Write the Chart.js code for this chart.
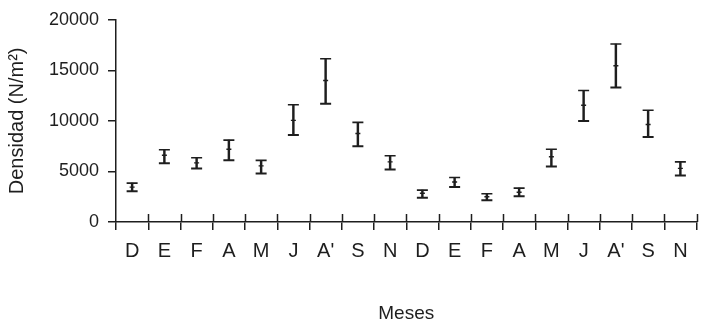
<!DOCTYPE html>
<html>
<head>
<meta charset="utf-8">
<script src="https://cdn.jsdelivr.net/npm/chart.js@4.4.1/dist/chart.umd.min.js"></script>
<style>
  body { margin: 0; background: #fff; }
</style>
</head>
<body>
<canvas id="mainCanvas" width="704" height="325"></canvas>
<script>
const meses = ['D', 'E', 'F', 'A', 'M', 'J', "A'", 'S', 'N', 'D', 'E', 'F', 'A', 'M', 'J', "A'", 'S', 'N'];
const medias = [3450, 6600, 5850, 7200, 5550, 10050, 14000, 8750, 5950, 2850, 3950, 2500, 2950, 6450, 11550, 15450, 9650, 5300];
const superior = [3850, 7150, 6350, 8100, 6100, 11600, 16150, 9850, 6550, 3150, 4400, 2800, 3350, 7200, 13000, 17600, 11050, 5950];
const inferior = [3050, 5800, 5300, 6100, 4800, 8600, 11700, 7500, 5200, 2400, 3450, 2150, 2550, 5500, 10000, 13300, 8400, 4600];
const yTicks = [0, 5000, 10000, 15000, 20000];

const negro = '#1e1e1e';
const fuente = 'Liberation Sans, Arial, sans-serif';

// las marcas del eje x cruzan la linea: dibujar la parte de arriba
const ticksArriba = {
    id: 'ticksArriba',
    afterDraw(c) {
        const x = c.scales.x;
        const ctx = c.ctx;
        const paso = (x.right - x.left) / meses.length;
        ctx.save();
        ctx.strokeStyle = negro;
        ctx.lineWidth = 1.5;
        ctx.beginPath();
        for (let i = 1; i <= meses.length; i++) {
            const px = Math.round(x.left + i * paso) + 0.5;
            ctx.moveTo(px, x.top - 8);
            ctx.lineTo(px, x.top);
        }
        ctx.stroke();
        ctx.restore();
    }
};

function puntos(data, radio, ancho) {
    return {
        type: 'line',
        data: data,
        showLine: false,
        pointStyle: 'line',
        pointRadius: radio,
        pointHoverRadius: radio,
        borderColor: negro,
        backgroundColor: negro,
        pointBorderWidth: ancho,
        order: 0
    };
}

let chart = new Chart(document.getElementById('mainCanvas'), {
    type: 'bar',
    data: {
        labels: meses,
        datasets: [
            {
                type: 'bar',
                data: meses.map((m, i) => [inferior[i], superior[i]]),
                backgroundColor: negro,
                borderWidth: 0,
                barThickness: 1.8,
                order: 1
            },
            puntos(superior, 5.5, 1.6),
            puntos(inferior, 5.5, 2),
            puntos(medias, 2.5, 1.4)
        ]
    },
    options: {
        responsive: false,
        animation: false,
        events: [],
        layout: { padding: { top: 19.5, right: 0, left: 0, bottom: 0 } },
        plugins: { legend: { display: false }, tooltip: { enabled: false } },
        scales: {
            x: {
                offset: true,
                grid: { offset: true, drawOnChartArea: false, tickLength: 8, color: negro, lineWidth: 1.5 },
                border: { color: negro, width: 1.5 },
                ticks: { color: negro, font: { family: fuente, size: 20 }, padding: 9, maxRotation: 0, autoSkip: false },
                title: { display: true, text: 'Meses', color: negro, font: { family: fuente, size: 19 }, padding: { top: 4, bottom: 0 } },
                afterFit: s => { s.height = 103; }
            },
            y: {
                min: 0,
                max: 20000,
                afterBuildTicks: s => { s.ticks = yTicks.map(v => ({ value: v })); },
                grid: { drawOnChartArea: false, tickLength: 8, color: negro, lineWidth: 1.5 },
                border: { color: negro, width: 1.5 },
                ticks: { color: negro, font: { family: fuente, size: 18 }, padding: 9, callback: v => String(v) },
                title: { display: true, text: 'Densidad (N/m²)', color: negro, font: { family: fuente, size: 20 }, padding: { top: 5, bottom: 0 } },
                afterFit: s => { s.width = 116; }
            }
        }
    },
    plugins: [ticksArriba]
});
</script>
</body>
</html>
